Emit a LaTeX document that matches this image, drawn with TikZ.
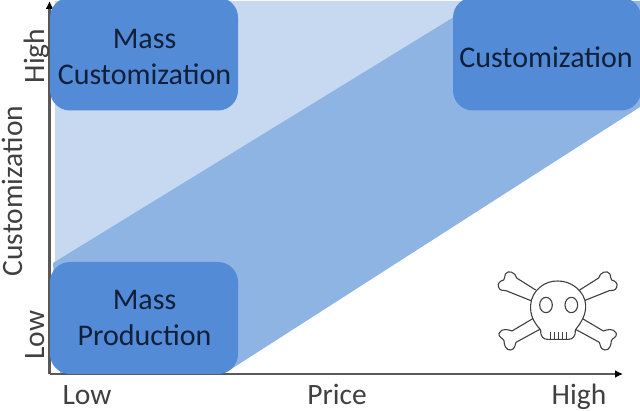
\documentclass[tikz,border=0pt]{standalone}
\usepackage{fontspec}
\setmainfont{Carlito}
\usetikzlibrary{arrows.meta}
\definecolor{lightband}{HTML}{C6D9F1}
\definecolor{midband}{HTML}{8EB4E3}
\definecolor{boxblue}{HTML}{538BD6}
\definecolor{axisgray}{HTML}{595959}
\definecolor{labelgray}{HTML}{404040}
\definecolor{boxtext}{HTML}{10203A}
\tikzset{
  x=1pt,y=-1pt,
  quadrant/.style={fill=boxblue,rounded corners=20pt,minimum width=188pt,minimum height=113pt,inner sep=0pt},
  boxlabel/.style={inner sep=0pt,align=center,text=boxtext,font=\fontsize{30}{36}\selectfont},
  axislabel/.style={anchor=base,text=labelgray,font=\fontsize{29.5}{36}\selectfont,inner sep=0pt},
  axisline/.style={draw=axisgray,line width=2.6pt,-{Latex[length=8pt,width=8pt,black]}},
  skullline/.style={draw=black!75,line width=1.1pt,fill=white,line join=round}
}
\newcommand{\bonepath}{(197,120) -- (140,84) .. controls (137,68) and (115,58) .. (106,72) .. controls (102,80) and (106,86) .. (101,90) .. controls (92,92) and (80,100) .. (86,112) .. controls (90,124) and (100,120) .. (108,122) -- (183,152)}
\newcommand{\lowbonepath}{(190,205) -- (126,243) .. controls (118,240) and (95,232) .. (87,250) .. controls (84,262) and (100,265) .. (102,272) .. controls (102,285) and (108,302) .. (122,300) .. controls (135,298) and (135,285) .. (138,277) -- (215,235)}
\begin{document}
\begin{tikzpicture}
\useasboundingbox (0,0) rectangle (640,411);
\fill[lightband] (55,1) -- (490,1) -- (55,265) -- cycle;
\fill[midband] (53,263) -- (480,1) -- (640,1) -- (640,107) -- (236,366) -- (225,373) -- (60,373) -- cycle;
\coordinate (origin) at (49.5,374);
\coordinate (ytip) at (49.5,1);
\coordinate (xtip) at (623,374);
\draw[axisline] (origin) -- (ytip);
\draw[axisline] (origin) -- (xtip);
\node[quadrant] (masscust) at (144,54) {};
\node[quadrant] (cust) at (547,54) {};
\node[quadrant,minimum height=112pt] (massprod) at (144,318) {};
\node[boxlabel] (masscusttext) at (144.5,57) {Mass\\Customization};
\node[boxlabel] (custtext) at (546,57) {Customization};
\node[boxlabel] (massprodtext) at (144.5,318) {Mass\\Production};
\node[axislabel] (xlow) at (87,405) {Low};
\node[axislabel] (xprice) at (337,405) {Price};
\node[axislabel] (xhigh) at (579,405) {High};
\node[axislabel,rotate=90] (ylow) at (44,335) {Low};
\node[axislabel,rotate=90] (ycust) at (22,191) {Customization};
\node[axislabel,rotate=90] (yhigh) at (44,56) {High};
\begin{scope}[shift={(470,250)},x=0.3333pt,y=-0.3333pt]
  \draw[skullline] \bonepath;
  \begin{scope}[shift={(526,0)},xscale=-1]
    \draw[skullline] \bonepath;
    \draw[skullline] \lowbonepath;
  \end{scope}
  \draw[skullline] \lowbonepath;
  \draw[skullline] (212,240) .. controls (190,215) and (180,195) .. (182,165) .. controls (185,120) and (225,92) .. (263,93) .. controls (305,92) and (345,125) .. (347,165) .. controls (348,195) and (335,215) .. (316,240) .. controls (318,258) and (308,268) .. (296,268) -- (232,268) .. controls (220,268) and (210,258) .. (212,240) -- cycle;
  \draw[skullline] (228,165) ellipse [x radius=19,y radius=23];
  \draw[skullline] (304,165) ellipse [x radius=19,y radius=23];
  \draw[draw=black!75,line width=0.8pt] (240,268) -- (240,247) (252,270) -- (252,245) (264,270) -- (264,245) (276,270) -- (276,245) (288,268) -- (288,247);
\end{scope}
\end{tikzpicture}
\end{document}
